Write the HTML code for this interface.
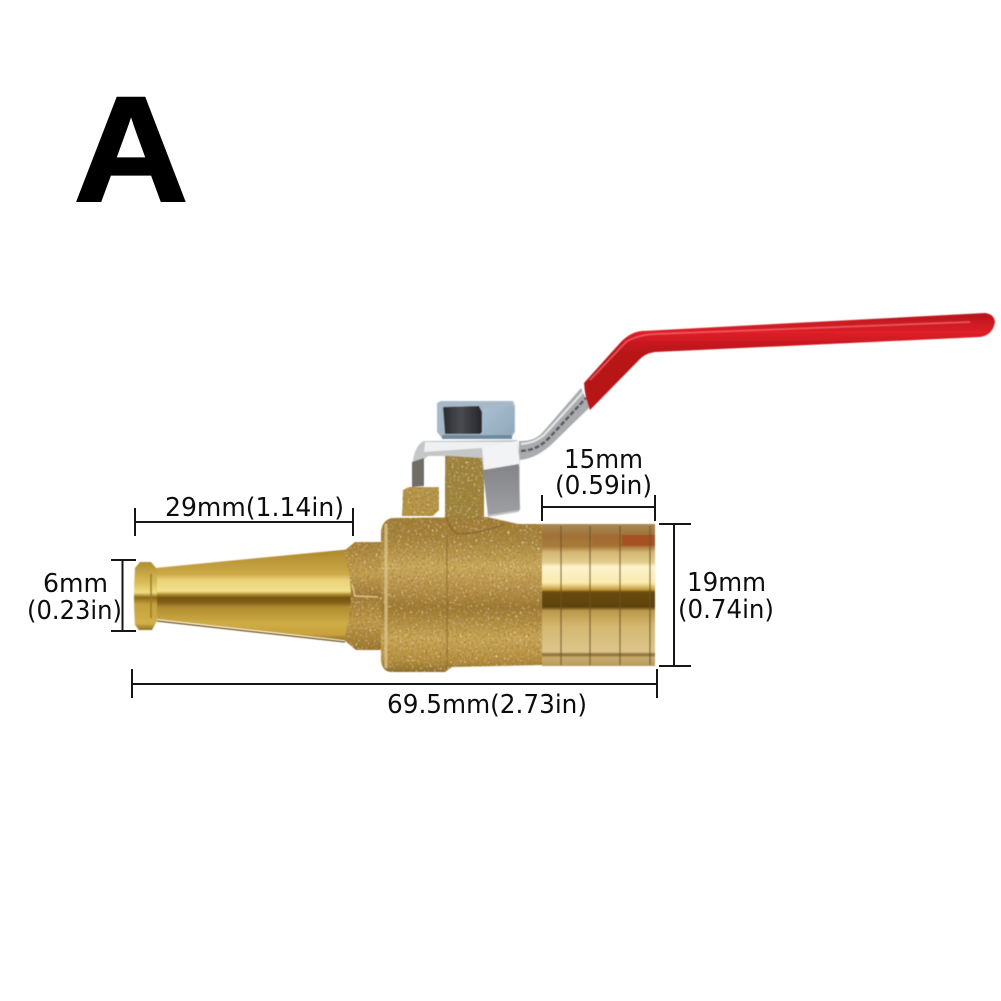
<!DOCTYPE html>
<html><head><meta charset="utf-8"><style>
html,body{margin:0;padding:0;background:#fff;width:1001px;height:1001px;overflow:hidden}
svg{display:block}
text{font-family:"DejaVu Sans","Liberation Sans",sans-serif;fill:#111;font-size:26px}
</style></head><body>
<svg width="1001" height="1001" viewBox="0 0 1001 1001" xmlns="http://www.w3.org/2000/svg">
<defs>
<linearGradient id="noz" gradientUnits="userSpaceOnUse" x1="0" y1="548" x2="0" y2="642">
<stop offset="0" stop-color="#a8842c"/><stop offset=".12" stop-color="#bb9638"/><stop offset=".28" stop-color="#cdaa48"/><stop offset=".34" stop-color="#ead27a"/><stop offset=".46" stop-color="#f2e08c"/><stop offset=".5" stop-color="#a38024"/><stop offset=".53" stop-color="#76540e"/><stop offset=".58" stop-color="#80601a"/><stop offset=".63" stop-color="#b08c30"/><stop offset=".8" stop-color="#ceac46"/><stop offset=".92" stop-color="#c8a23e"/><stop offset="1" stop-color="#7d5c14"/>
</linearGradient>
<linearGradient id="fl" gradientUnits="userSpaceOnUse" x1="0" y1="562" x2="0" y2="630">
<stop offset="0" stop-color="#b08c30"/><stop offset=".3" stop-color="#d8bc58"/><stop offset=".45" stop-color="#f0dc80"/><stop offset=".52" stop-color="#8a6818"/><stop offset=".62" stop-color="#c4a03c"/><stop offset=".9" stop-color="#d2b048"/><stop offset="1" stop-color="#927020"/>
</linearGradient>
<linearGradient id="hex" gradientUnits="userSpaceOnUse" x1="0" y1="541" x2="0" y2="650">
<stop offset="0" stop-color="#a67f36"/><stop offset=".3" stop-color="#c4a052"/><stop offset=".5" stop-color="#a07a34"/><stop offset=".75" stop-color="#c09a48"/><stop offset="1" stop-color="#9a752e"/>
</linearGradient>
<linearGradient id="body" gradientUnits="userSpaceOnUse" x1="0" y1="518" x2="0" y2="672">
<stop offset="0" stop-color="#a27c36"/><stop offset=".14" stop-color="#a8843c"/><stop offset=".32" stop-color="#ccab5c"/><stop offset=".46" stop-color="#b8924a"/><stop offset=".58" stop-color="#9e7830"/><stop offset=".78" stop-color="#cba856"/><stop offset=".93" stop-color="#b58e3e"/><stop offset="1" stop-color="#8e6c2a"/>
</linearGradient>
<linearGradient id="barb" gradientUnits="userSpaceOnUse" x1="0" y1="524" x2="0" y2="666">
<stop offset="0" stop-color="#a88a58"/><stop offset=".08" stop-color="#a07238"/><stop offset=".16" stop-color="#a87c3c"/><stop offset=".2" stop-color="#d4b874"/><stop offset=".27" stop-color="#e2cc8e"/><stop offset=".3" stop-color="#fdf4cc"/><stop offset=".415" stop-color="#fbeab0"/><stop offset=".46" stop-color="#c8a040"/><stop offset=".48" stop-color="#6a4a10"/><stop offset=".585" stop-color="#5e4210"/><stop offset=".61" stop-color="#bb984a"/><stop offset=".72" stop-color="#d4b870"/><stop offset=".9" stop-color="#dcc68c"/><stop offset=".92" stop-color="#866830"/><stop offset=".94" stop-color="#c8ac6c"/><stop offset="1" stop-color="#b89a60"/>
</linearGradient>
<linearGradient id="red" gradientUnits="userSpaceOnUse" x1="0" y1="313" x2="0" y2="352">
<stop offset="0" stop-color="#b4161c"/><stop offset=".5" stop-color="#df2028"/><stop offset="1" stop-color="#b81219"/>
</linearGradient>
<linearGradient id="grey" x1="0" y1="0" x2="0" y2="1">
<stop offset="0" stop-color="#838488"/><stop offset="1" stop-color="#9fa0a4"/>
</linearGradient>
<linearGradient id="nutR" x1="0" y1="0" x2="1" y2="1">
<stop offset="0" stop-color="#a9c0d2"/><stop offset="1" stop-color="#8fa8ba"/>
</linearGradient>
<linearGradient id="nutD" x1="0" y1="0" x2="1" y2="0">
<stop offset="0" stop-color="#2a2b2f"/><stop offset=".45" stop-color="#4a4b50"/><stop offset="1" stop-color="#26272b"/>
</linearGradient>
<filter id="tex" x="0" y="0" width="100%" height="100%">
<feTurbulence type="fractalNoise" baseFrequency="0.5" numOctaves="2" seed="4" result="n"/>
<feColorMatrix in="n" type="matrix" values="0 0 0 0 .28  0 0 0 0 .18  0 0 0 0 .02  1.6 1.6 0 0 -1.5" result="d"/>
<feComposite in="d" in2="SourceAlpha" operator="in" result="dc"/>
<feColorMatrix in="n" type="matrix" values="0 0 0 0 .95  0 0 0 0 .85  0 0 0 0 .55  0 0 1.6 1.6 -1.85" result="l"/>
<feComposite in="l" in2="SourceAlpha" operator="in" result="lc"/>
<feMerge><feMergeNode in="SourceGraphic"/><feMergeNode in="dc"/><feMergeNode in="lc"/></feMerge>
</filter>
<filter id="soft" x="-5%" y="-5%" width="110%" height="110%"><feGaussianBlur stdDeviation=".3"/></filter>
<filter id="soft2" x="-2%" y="-2%" width="104%" height="104%"><feGaussianBlur stdDeviation=".6"/></filter>
</defs>

<rect width="1001" height="1001" fill="#fff"/>

<text transform="translate(73.6 201) scale(1.06 1)" x="0" y="0" style="font-family:'Liberation Sans',sans-serif;font-weight:700;font-size:150px;fill:#000;stroke:#000;stroke-width:2px">A</text>

<g filter="url(#soft2)">
<!-- handle rod -->
<path d="M519 441 C530 441 536 439 542 433 L581 388 L590 407 L552 444 C542 453 532 459 519 460 Z" fill="#a9abae"/>
<path d="M521 451 C534 450 541 446 549 438 L586 398" fill="none" stroke="#55585c" stroke-width="2.5" stroke-dasharray="5 2"/>
<path d="M521 444 C532 443 538 440 544 435 L583 392" fill="none" stroke="#e8e9ea" stroke-width="2"/>
<!-- red handle -->
<path d="M584 383 L620 343 Q630 332 642 331 L985 313 Q994 314 995 322 Q993 335 980 337 L655 352 Q646 353 640 359 L590 410 Q585 398 584 383 Z" fill="url(#red)"/>
<path d="M590 380 L626 342 Q636 335 655 334 L970 322" fill="none" stroke="#f4606a" stroke-width="1.5" opacity=".85"/>

<!-- brass stem and small block -->
<path d="M445 455 H484 V520 H445 Z" fill="#a0843c" filter="url(#tex)"/>
<path d="M403 490 L409 487 H439 V510 L433 516 H402 Z" fill="#b8954a" filter="url(#tex)"/>

<!-- bracket -->
<path d="M413 485 V460 Q416 444 424 441 L517 440 L520 457 L519 512 L488 517 L482 458 L450 456 L428 456 L423 460 V485 Z" fill="#c4c6c8"/>
<path d="M412 487 V462 L424 458 V486 Z" fill="#6f6d66"/>
<path d="M425 442 H515 L482 448 L424 452 Z" fill="#eef0f1"/>
<path d="M482 447 L517 441 L520 466 L484 470 Z" fill="#f2f3f4"/>
<path d="M483 470 L519 464 L520 510 L488 515 Z" fill="url(#grey)"/>
<path d="M425 459 L445 458 V476 H441 V487 H425 Z" fill="#fff"/>

<!-- nut -->
<path d="M437 403 L441 401 H513 L515 406 V432 L511 438 H442 L437 432 Z" fill="#a7b9c7"/>
<path d="M443 407 L479 406 L482 412 V432 L480 434 H445 Z" fill="url(#nutD)"/>
<path d="M483 409 L510 405 L514 408 V431 L510 436 L483 434 Z" fill="url(#nutR)"/>
<rect x="442" y="435" width="70" height="4" fill="#6f8ba0"/>

<!-- nozzle -->
<path d="M155 568 L352 549 V641 L155 619 Z" fill="url(#noz)"/>
<path d="M157 621 L345 642" stroke="#6a4e14" stroke-width="1.2" fill="none"/>
<path d="M135 568 L140 562 H151 L157 569 V621 L152 630 H139 L135 625 Q133 596 135 568 Z" fill="url(#fl)"/>
<path d="M151 574 V618" stroke="#9a7a24" stroke-width="1.5"/>
<path d="M344 551 L355 542 H382 V650 H356 L344 640 Q350 620 351 596 Q350 570 344 551 Z" fill="url(#hex)" filter="url(#tex)"/>
<path d="M352 584 L355 596 L378 597" stroke="#e4cb8a" stroke-width="1.2" fill="none"/>

<!-- body -->
<path d="M381 532 Q382 520 392 518 L487 517 L518 524 H543 V665 L452 667 L445 672 H392 Q382 672 381 660 Z" fill="url(#body)" filter="url(#tex)"/>
<path d="M386 524 V668" stroke="#dcc486" stroke-width="3" opacity=".8"/>
<path d="M447 534 V668" stroke="#8a6a28" stroke-width="1.5" opacity=".6"/>
<path d="M446 517 Q450 530 458 534 Q478 534 505 524" stroke="#7e6028" stroke-width="1.5" fill="none" opacity=".7"/>

<!-- barb -->
<rect x="542" y="524" width="113" height="142" fill="url(#barb)"/>
<rect x="592" y="535" width="62" height="11" fill="#a5652c" opacity=".6"/>
<rect x="622" y="535" width="33" height="11" fill="#a8401c" opacity=".6"/>
<g stroke="#6e5426" stroke-width="1.3" opacity=".8">
<path d="M561 526V665M590 526V665M620 526V665M650 526V665"/>
</g>
</g>

<!-- dimension lines -->
<g stroke="#151515" stroke-width="2" fill="none" filter="url(#soft)">
<path d="M135 522H353M135 508V536M353 508V536"/>
<path d="M122.5 560V631M111 560H136M111 631H136"/>
<path d="M132 684H657M132 669V698M657 669V698"/>
<path d="M542 507H655M542 495V521M655 495V521"/>
<path d="M674 524V666M659 524H691M659 666H691"/>
</g>

<!-- labels -->
<g filter="url(#soft)">
<text x="564" y="468" textLength="79" lengthAdjust="spacingAndGlyphs">15mm</text>
<text x="555" y="494" textLength="97" lengthAdjust="spacingAndGlyphs">(0.59in)</text>
<text x="165" y="516" textLength="179" lengthAdjust="spacingAndGlyphs">29mm(1.14in)</text>
<text x="43" y="592" textLength="65" lengthAdjust="spacingAndGlyphs">6mm</text>
<text x="27" y="619" textLength="95" lengthAdjust="spacingAndGlyphs">(0.23in)</text>
<text x="687" y="591" textLength="79" lengthAdjust="spacingAndGlyphs">19mm</text>
<text x="678" y="618" textLength="96" lengthAdjust="spacingAndGlyphs">(0.74in)</text>
<text x="387" y="713" textLength="200" lengthAdjust="spacingAndGlyphs">69.5mm(2.73in)</text>
</g>
</svg>
</body></html>
